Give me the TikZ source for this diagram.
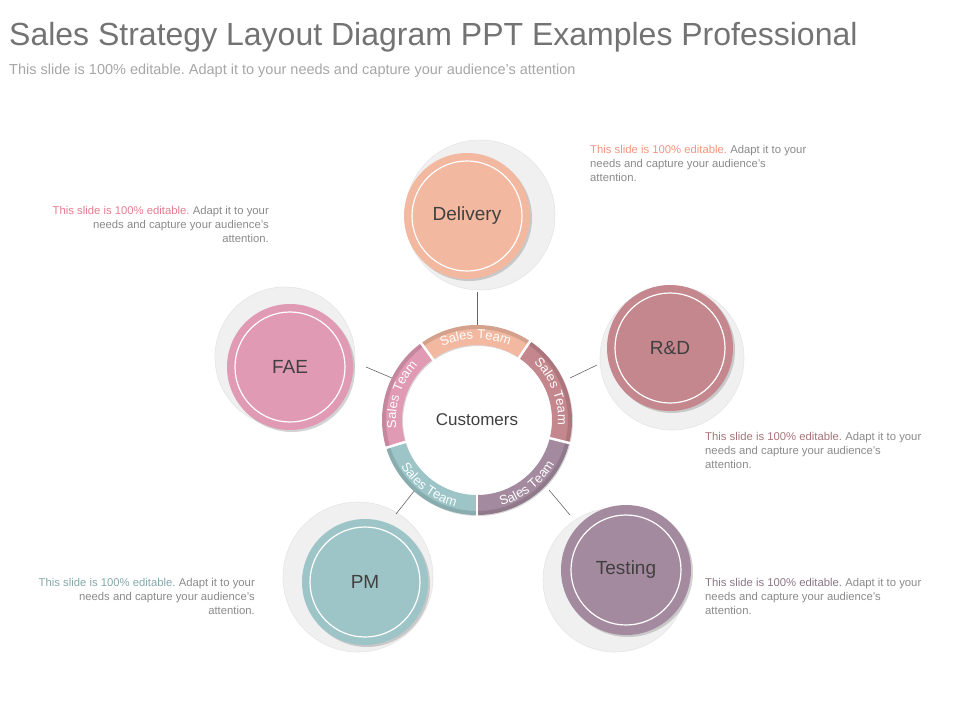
\documentclass[tikz,border=0pt]{standalone}
\usepackage{fontspec}
\setmainfont{Liberation Sans}
\frenchspacing
\usetikzlibrary{decorations.text,shadows}
\definecolor{cdel}{HTML}{F2B8A0}
\definecolor{crd}{HTML}{C4878E}
\definecolor{ctest}{HTML}{A48A9E}
\definecolor{cpm}{HTML}{9DC5C8}
\definecolor{cfae}{HTML}{E19AB3}
\definecolor{tgray}{HTML}{8A8A8A}
\tikzset{
 back/.style={circle,fill=gray!12,draw=gray!20,line width=0.6pt,minimum size=150pt,inner sep=0},
 disc/.style={circle,minimum size=126pt,inner sep=0,font=\fontsize{19}{22}\selectfont,text=black!75,
   path picture={\draw[white,line width=1.2pt] (path picture bounding box.center) circle[radius=55pt];},
   drop shadow={shadow xshift=2pt,shadow yshift=-2pt,opacity=0.35}},
 note/.style={font=\fontsize{11.3}{14}\selectfont,text=tgray,inner sep=0},
 conn/.style={draw=black!60,line width=0.6pt},
 seg/.style={draw=white,line width=2.5pt},
 st/.style={decorate,decoration={text along path,text={|\fontsize{13}{13}\selectfont\color{white}|Sales Team},text align=center}},
}
\begin{document}
\begin{tikzpicture}[x=1pt,y=1pt]
\useasboundingbox (0,0) rectangle (960,-720);
\node[anchor=west,text=black!55,font=\fontsize{32}{36}\selectfont,inner sep=0] (title) at (9,-37) {Sales Strategy Layout Diagram PPT Examples Professional};
\node[anchor=west,text=black!35,font=\fontsize{14.5}{16}\selectfont,inner sep=0] (sub) at (9,-71) {This slide is 100\% editable. Adapt it to your needs and capture your audience's attention};

% back circles
\node[back] (bdel) at (480,-215) {};
\node[back,minimum size=144pt] (brd) at (672,-358) {};
\node[back,minimum size=140pt] (bfae) at (285,-357) {};
\node[back] (bpm) at (358,-577) {};
\node[back,minimum size=144pt] (btest) at (615,-580) {};
% discs
\node[disc,fill=cdel] (del) at (467,-216) {Delivery};
\node[disc,fill=crd] (rd) at (670,-348) {R\&D};
\node[disc,fill=cfae] (fae) at (290,-367) {FAE};
\node[disc,fill=cpm] (pm) at (365,-582) {PM};
\node[disc,fill=ctest,minimum size=130pt] (test) at (626,-570) {Testing};

% ring
\coordinate (c) at (477,-420);
\node[font=\fontsize{17}{20}\selectfont,text=black!75] (cust) at (c) {Customers};
\coordinate (d1) at (477,-292); \coordinate (d2) at (477,-325);
\coordinate (f1) at (366,-367); \coordinate (f2) at (392,-378);
\coordinate (r1) at (597,-365); \coordinate (r2) at (570,-378);
\coordinate (p1) at (396,-514); \coordinate (p2) at (415,-490);
\coordinate (t1) at (570,-515); \coordinate (t2) at (549,-490);
\draw[conn] (d1)--(d2); \draw[conn] (f1)--(f2); \draw[conn] (r1)--(r2);
\draw[conn] (p1)--(p2); \draw[conn] (t1)--(t2);
\begin{scope}[shift={(477,-420)}]
\foreach \a/\b/\col in {56/126/cdel,126/197/cfae,197/270/cpm,270/346/ctest,-14/56/crd}{
 \fill[\col,drop shadow={shadow xshift=1pt,shadow yshift=-1pt,opacity=0.3}] (\a:95) arc[start angle=\a,end angle=\b,radius=95] -- (\b:75) arc[start angle=\b,end angle=\a,radius=75] -- cycle;
 \fill[black,opacity=0.12] (\a:95) arc[start angle=\a,end angle=\b,radius=95] -- (\b:91) arc[start angle=\b,end angle=\a,radius=91] -- cycle;
}
\foreach \a in {56,126,197,270,-14}{\draw[seg] (\a:73) -- (\a:97);}
\path[st] (126:81) arc[start angle=126,end angle=56,radius=81];
\path[st] (56:81) arc[start angle=56,end angle=-14,radius=81];
\path[st] (197:81) arc[start angle=197,end angle=126,radius=81];
\path[st] (197:89) arc[start angle=197,end angle=270,radius=89];
\path[st] (270:89) arc[start angle=270,end angle=346,radius=89];
\end{scope}

% notes
\node[note,anchor=north west,align=left] (n1) at (590,-145) {{\color{cdel!80!red}This slide is 100\% editable.} Adapt it to your\\needs and capture your audience's\\attention.};
\node[note,anchor=north east,align=right] (n2) at (269,-206) {{\color{cfae!80!red}This slide is 100\% editable.} Adapt it to your\\needs and capture your audience's\\attention.};
\node[note,anchor=north west,align=left] (n3) at (705,-432) {{\color{crd!85!black}This slide is 100\% editable.} Adapt it to your\\needs and capture your audience's\\attention.};
\node[note,anchor=north east,align=right] (n4) at (255,-578) {{\color{cpm!85!black}This slide is 100\% editable.} Adapt it to your\\needs and capture your audience's\\attention.};
\node[note,anchor=north west,align=left] (n5) at (705,-578) {{\color{ctest!85!black}This slide is 100\% editable.} Adapt it to your\\needs and capture your audience's\\attention.};
\end{tikzpicture}
\end{document}
